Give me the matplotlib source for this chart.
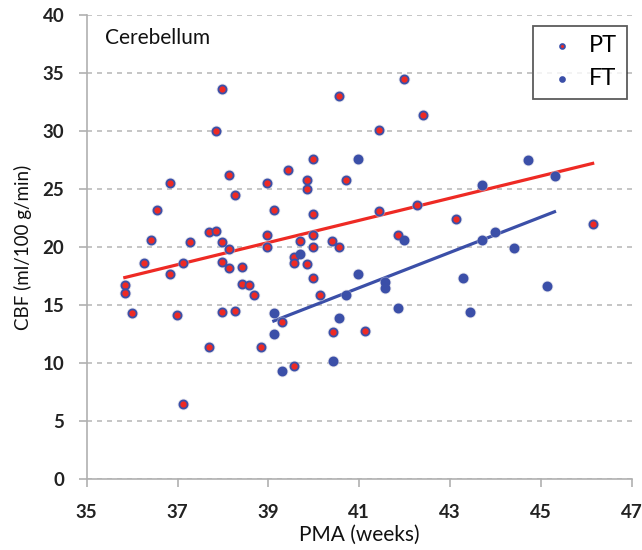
import matplotlib
matplotlib.use('Agg')
import matplotlib.pyplot as plt
import numpy as np

plt.rcParams['font.family'] = ['Lato', 'DejaVu Sans']

# preterm (PT) infants: PMA in weeks, CBF in ml/100 g/min
pt_pma = [35.84, 35.84, 35.99, 36.27, 36.41, 36.55, 36.83, 36.83, 36.98, 37.13,
          37.13, 37.27, 37.70, 37.85, 37.70, 37.85, 37.99, 37.99, 37.99, 37.99,
          38.13, 38.13, 38.13, 38.27, 38.27, 38.42, 38.42, 38.57, 38.69, 38.84,
          38.98, 38.98, 38.98, 39.12, 39.29, 39.44, 39.56, 39.56, 39.56, 39.70,
          39.86, 39.86, 39.86, 39.99, 39.99, 39.99, 39.99, 39.99, 40.14, 40.41,
          40.42, 40.55, 40.55, 40.70, 41.13, 41.43, 41.43, 41.85, 41.99, 42.27,
          42.41, 43.13, 46.14]
pt_cbf = [16.7, 16.0, 14.3, 18.6, 20.6, 23.2, 25.5, 17.7, 14.1, 18.6,
          6.5, 20.4, 21.3, 21.35, 11.35, 30.0, 33.6, 20.4, 18.7, 14.4,
          26.2, 19.8, 18.2, 24.5, 14.5, 18.3, 16.8, 16.7, 15.9, 11.35,
          25.5, 21.0, 20.0, 23.2, 13.5, 26.6, 19.1, 18.6, 9.7, 20.5,
          25.8, 25.0, 18.5, 27.6, 22.8, 21.0, 20.0, 17.3, 15.9, 20.5,
          12.7, 33.0, 20.0, 25.8, 12.8, 30.1, 23.1, 21.0, 34.5, 23.6,
          31.35, 22.4, 22.0]

# full term (FT) infants
ft_pma = [39.12, 39.12, 39.29, 39.70, 40.42, 40.56, 40.71, 40.98, 40.98, 41.57,
          41.57, 41.86, 41.99, 43.29, 43.44, 43.70, 43.70, 43.99, 44.41, 44.71,
          45.13, 45.30]
ft_cbf = [14.3, 12.5, 9.35, 19.4, 10.2, 13.85, 15.9, 27.6, 17.65, 16.95,
          16.5, 14.7, 20.6, 17.3, 14.4, 25.3, 20.6, 21.3, 19.9, 27.5,
          16.6, 26.1]

red = '#ee2a24'
blue = '#3b4fa8'

fig = plt.figure(figsize=(6.42, 5.5), dpi=100)
ax = fig.add_axes([0.135, 0.129, 0.849, 0.844])

ax.set_xlim(35, 47)
ax.set_ylim(0, 40)
ax.set_xticks(np.arange(35, 48, 2))
ax.set_yticks(np.arange(0, 41, 5))
ax.yaxis.grid(True, linestyle=(0, (3, 3)), color='#bbbbbb', linewidth=1.2)
ax.set_axisbelow(True)

for s in ['top', 'right']:
    ax.spines[s].set_visible(False)
for s in ['left', 'bottom']:
    ax.spines[s].set_color('#b0b0b0')
    ax.spines[s].set_linewidth(1.2)
ax.tick_params(colors='#b0b0b0', width=1.2, length=6, labelcolor='#222222',
               labelsize=13.5)
ax.tick_params(axis='x', pad=12)
ax.tick_params(axis='y', pad=10)
for lbl in ax.get_xticklabels() + ax.get_yticklabels():
    lbl.set_fontweight('bold')

# linear fits for each group
for x, y, c in [(pt_pma, pt_cbf, red), (ft_pma, ft_cbf, blue)]:
    k, b = np.polyfit(x, y, 1)
    xs = np.array([min(x), max(x)])
    ax.plot(xs, k * xs + b, color=c, linewidth=2.3, zorder=2)

# soft shadow under the dots
ax.scatter(pt_pma + ft_pma, pt_cbf + ft_cbf, s=70, color='#c8c8d8', alpha=0.5,
           linewidths=0, zorder=3)
ax.scatter(pt_pma, pt_cbf, s=34, color=red, edgecolors=blue, linewidths=1.3,
           zorder=4, label='PT')
ax.scatter(ft_pma, ft_cbf, s=34, color=blue, edgecolors=blue, linewidths=1.3,
           zorder=4, label='FT')

ax.text(35.4, 38.0, 'Cerebellum', fontsize=15, va='center', color='#111111')

leg = ax.legend(loc='upper right', bbox_to_anchor=(0.991, 0.976), fontsize=17,
                frameon=True, fancybox=False, handletextpad=0.3,
                borderpad=0.4, labelspacing=0.5, markerscale=0.6,
                borderaxespad=0, handlelength=1.7)
leg.get_frame().set_edgecolor('#333333')
leg.get_frame().set_linewidth(1.3)

ax.set_xlabel('PMA (weeks)', fontsize=15, color='#111111', labelpad=3)
ax.set_ylabel('CBF (ml/100 g/min)', fontsize=13.5, color='#111111', labelpad=8)

fig.savefig('out.png', dpi=100)
